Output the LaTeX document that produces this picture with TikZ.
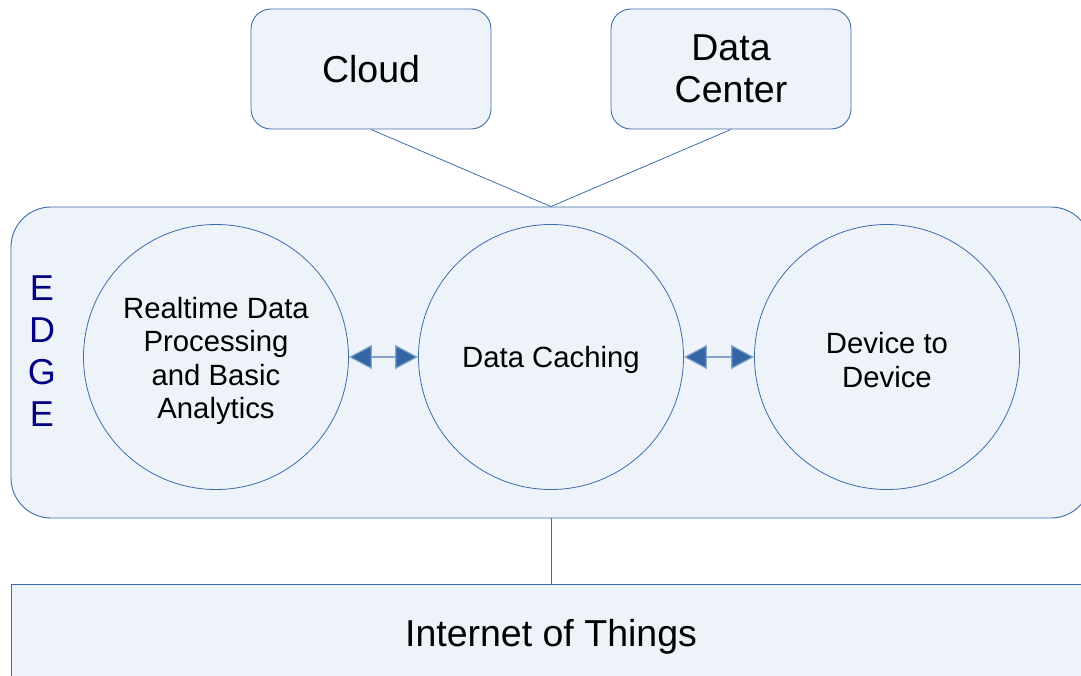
\documentclass[tikz,border=0pt]{standalone}
\usepackage{fontspec}
\setmainfont{Liberation Sans}
\usetikzlibrary{arrows.meta}
\definecolor{boxfill}{RGB}{238,243,250}
\definecolor{boxline}{RGB}{62,108,168}
\definecolor{arrowcol}{RGB}{52,101,164}
\definecolor{navy}{RGB}{0,0,128}
\tikzset{
  bigfont/.style={font=\fontsize{37.5}{42}\selectfont},
  topbox/.style={draw=boxline, fill=boxfill, line width=0.9pt, rounded corners=20pt,
    minimum width=240pt, minimum height=120pt, inner sep=0pt, align=center, bigfont},
  bigbox/.style={draw=boxline, fill=boxfill, line width=0.9pt, inner sep=0pt},
  disc/.style={draw=boxline, fill=boxfill, line width=0.8pt, circle, minimum size=265pt,
    inner sep=0pt},
  disctext/.style={align=center, inner sep=0pt, font=\fontsize{29.3}{33.5}\selectfont},
  link/.style={draw=boxline, line width=0.8pt},
  dblarrow/.style={draw=arrowcol!60, line width=1.2pt,
    {Triangle[length=23pt,width=24pt,fill=arrowcol]}-{Triangle[length=23pt,width=24pt,fill=arrowcol]}}
}
\begin{document}
\begin{tikzpicture}[x=1pt,y=-1pt]
\useasboundingbox (0,0) rectangle (1081,676);
% top boxes
\node[topbox] (cloud) at (371,69) {Cloud};
\node[topbox] (dc) at (731,69) {Data\\Center};
% edge box
\node[bigbox, rounded corners=40pt, minimum width=1080pt, minimum height=311pt] (edge) at (551,362.5) {};
% IoT box
\node[bigbox, minimum width=1080pt, minimum height=100pt] (iot) at (551,634) {};
\node[bigfont, inner sep=0pt] (iottext) at (551,637) {Internet of Things};
% connectors
\draw[link] (cloud.south) -- (edge.north);
\draw[link] (dc.south) -- (edge.north);
\draw[link] (edge.south) -- (iot.north);
% EDGE label
\node[text=navy, font=\fontsize{36}{42}\selectfont, align=center, inner sep=0pt] (edgelabel) at (42,351) {E\\D\\G\\E};
% circles
\node[disc] (c1) at (216,357) {};
\node[disc] (c2) at (551,357) {};
\node[disc] (c3) at (887,357) {};
\node[disctext] (t1) at ([yshift=-4pt]c1.center) {Realtime Data\\Processing\\and Basic\\Analytics};
\node[disctext] (t2) at ([yshift=-3pt]c2.center) {Data Caching};
\node[disctext] (t3) at ([yshift=-3pt]c3.center) {Device to\\Device};
% arrows
\draw[dblarrow] (c1.east) -- (c2.west);
\draw[dblarrow] (c2.east) -- (c3.west);
\end{tikzpicture}
\end{document}
